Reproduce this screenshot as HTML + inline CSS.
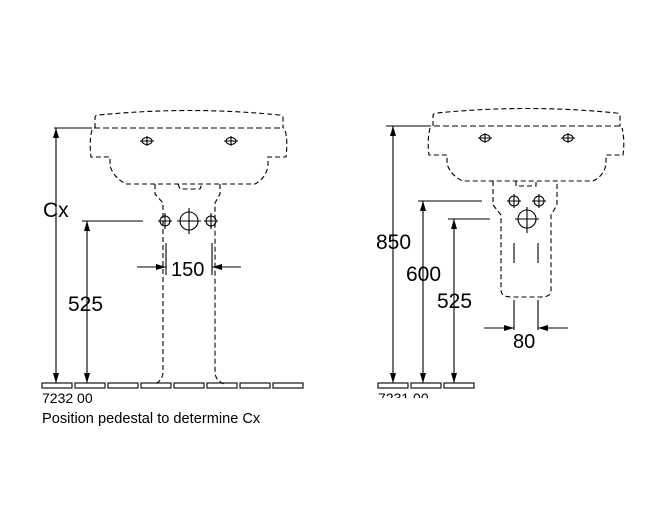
<!DOCTYPE html>
<html><head><style>
html,body{margin:0;padding:0;background:#fff;}
svg{display:block;}
text{font-family:"Liberation Sans",Arial,sans-serif;fill:#000;}
</style></head><body>
<svg width="660" height="530" viewBox="0 0 660 530" xmlns="http://www.w3.org/2000/svg">
<defs>
<marker id="a" viewBox="0 0 10 6" refX="10" refY="3" markerWidth="10" markerHeight="6" orient="auto-start-reverse" markerUnits="userSpaceOnUse"><path d="M0,0 L10,3 L0,6 z" fill="#000"/></marker>
</defs>
<g fill="none" stroke="#000" stroke-width="1.1" stroke-dasharray="5,3">
<path d="M95,128 L95,118 Q95,115 99,115 Q190,106 279,115 Q283,115 283,118 L283,128"/>
<path d="M92,130 Q89,140 91,157 L110,157 L110,166 Q114,178 126,184 L255,184 Q266,178 268,166 L268,157 L286,157 Q288,140 285,130"/>
<path d="M178,184 L180,189 L200,189 L202,184"/>
<path d="M155,184 L155,194 L163,203 L163,372 Q163,380 155,384"/>
<path d="M220,184 L220,194 L215,203 L215,372 Q215,380 224,384"/>
<path d="M433,126 L433,116 Q433,113 437,113 Q527,104 616,113 Q620,113 620,116 L620,126"/>
<path d="M430,128 Q427,140 429,155 L447,155 L447,164 Q451,176 463,181 L593,181 Q604,176 606,164 L606,155 L623,155 Q625,140 622,128"/>
<path d="M516,181 L516,186 L536,186 L536,181"/>
<path d="M493,181 L493,205 L501,215 L501,290 Q501,297 512,297 L541,297 Q551,297 551,290 L551,215 L557,205 L557,181"/>
</g>
<g stroke="#000" stroke-width="1.1" fill="none">
<path d="M85,128 H284" stroke-dasharray="6,3"/>
<path d="M425,126 H622" stroke-dasharray="6,3"/>
<ellipse cx="147" cy="141" rx="5" ry="3.5"/><path d="M140,141h14M147,136v10"/>
<ellipse cx="231" cy="141" rx="5" ry="3.5"/><path d="M224,141h14M231,136v10"/>
<ellipse cx="485" cy="138" rx="5" ry="3.5"/><path d="M478,138h14M485,133v10"/>
<ellipse cx="568" cy="138" rx="5" ry="3.5"/><path d="M561,138h14M568,133v10"/>
<circle cx="165" cy="221" r="5"/><path d="M158,221h14M165,213v16"/>
<circle cx="189" cy="221" r="9"/><path d="M177,221h24M189,208v26"/>
<circle cx="211" cy="221" r="5"/><path d="M204,221h14M211,213v16"/>
<circle cx="514" cy="201" r="5"/><path d="M507,201h14M514,194v14"/>
<circle cx="539" cy="201" r="5"/><path d="M532,201h14M539,194v14"/>
<circle cx="527" cy="219" r="9"/><path d="M515,219h24M527,207v26"/>
<path d="M514,243v20M538,243v20"/>
<path d="M54,128H92"/>
<path d="M56,128V383" marker-start="url(#a)" marker-end="url(#a)"/>
<path d="M82,221H143"/>
<path d="M87,221V383" marker-start="url(#a)" marker-end="url(#a)"/>
<path d="M166,243V275M212,243V275"/>
<path d="M137,267H166" marker-end="url(#a)"/>
<path d="M241,267H212" marker-end="url(#a)"/>
<path d="M386,126H425"/>
<path d="M393,126V383" marker-start="url(#a)" marker-end="url(#a)"/>
<path d="M418,201H482"/>
<path d="M423,201V383" marker-start="url(#a)" marker-end="url(#a)"/>
<path d="M448,219H490"/>
<path d="M454,219V383" marker-start="url(#a)" marker-end="url(#a)"/>
<path d="M514,300V330M538,300V330"/>
<path d="M484,328H514" marker-end="url(#a)"/>
<path d="M568,328H538" marker-end="url(#a)"/>
<rect x="42" y="383" width="30" height="5"/><rect x="75" y="383" width="30" height="5"/><rect x="108" y="383" width="30" height="5"/><rect x="141" y="383" width="30" height="5"/><rect x="174" y="383" width="30" height="5"/><rect x="207" y="383" width="30" height="5"/><rect x="240" y="383" width="30" height="5"/><rect x="273" y="383" width="30" height="5"/>
<rect x="378" y="383" width="30" height="5"/><rect x="411" y="383" width="30" height="5"/><rect x="444" y="383" width="30" height="5"/>
</g>
<text x="43" y="217" font-size="21">Cx</text>
<text x="68" y="311" font-size="21">525</text>
<text x="171" y="276" font-size="20">150</text>
<text x="376" y="249" font-size="21">850</text>
<text x="406" y="281" font-size="21">600</text>
<text x="437" y="308" font-size="21">525</text>
<text x="513" y="348" font-size="20">80</text>
<text x="42" y="403" font-size="14">7232 00</text>
<text x="42" y="423" font-size="14.6">Position pedestal to determine Cx</text>
<clipPath id="c"><rect x="370" y="389" width="120" height="9"/></clipPath>
<text x="378" y="403" font-size="14" clip-path="url(#c)">7231 00</text>
</svg>
</body></html>
